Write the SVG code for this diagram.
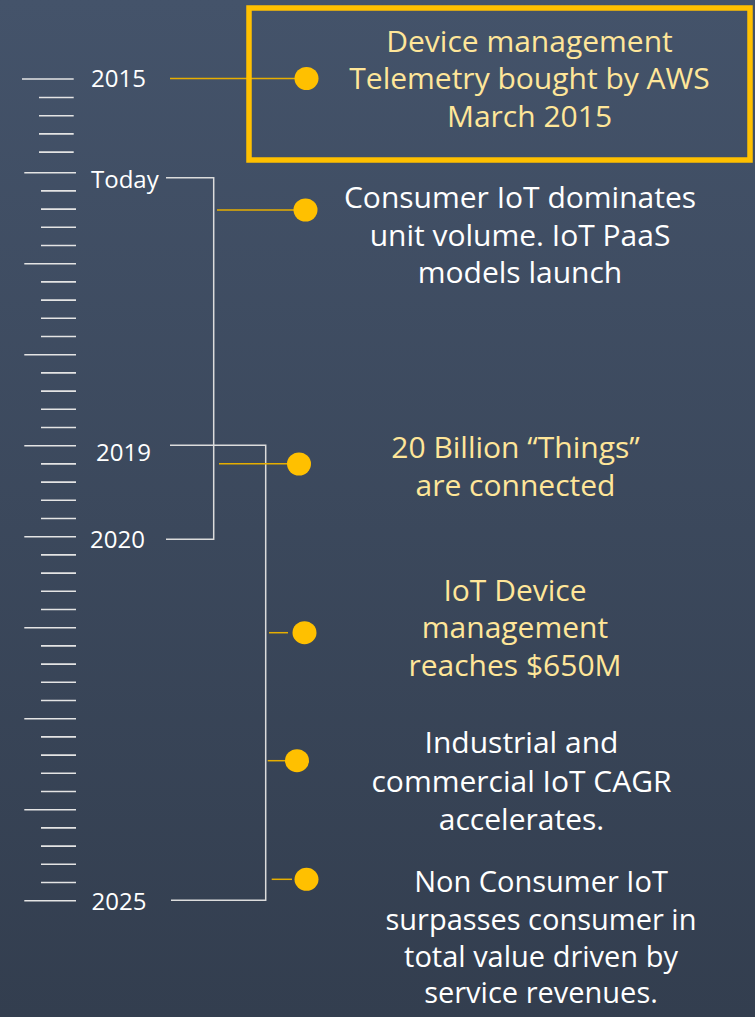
<svg xmlns="http://www.w3.org/2000/svg" width="755" height="1017" viewBox="0 0 755 1017">
<defs>
<linearGradient id="bg" x1="0" y1="0" x2="0" y2="1">
<stop offset="0" stop-color="#44536A"/>
<stop offset="1" stop-color="#333E4F"/>
</linearGradient>
</defs>
<style>
.tick{stroke:#E4E4E4;stroke-width:1.6;fill:none}
.year{font-family:"Open Sans","Noto Sans",sans-serif;font-size:24px;fill:#FFFFFF}
.ev{font-family:"Open Sans","Noto Sans",sans-serif;font-size:30px;text-anchor:middle}
.sm{font-size:29px}
.w{fill:#FFFFFF}
.y{fill:#FFE699}
.dot{fill:#FFC000}
.bracket{stroke:#DCDCDC;stroke-width:1.5;fill:none}
.lead{stroke:#E6AE00;stroke-width:1.5;fill:none}
</style>
<rect x="0" y="0" width="755" height="1017" fill="url(#bg)"/>
<g id="ruler">
<path class="tick" d="M22 79H73.7M24.3 172.7H76M24.3 263.7H76M24.3 354.7H76M24.3 445.7H76M24.3 536.7H76M24.3 627.7H76M24.3 718.7H76M24.3 809.7H76M24.3 900.7H76"/>
<path class="tick" d="M39 97.5H73.7M39 115.7H73.7M39 133.9H73.7M39 152.1H73.7
M41 190.9H76M41 209.1H76M41 227.3H76M41 245.5H76
M41 281.9H76M41 300.1H76M41 318.3H76M41 336.5H76
M41 372.9H76M41 391.1H76M41 409.3H76M41 427.5H76
M41 463.9H76M41 482.1H76M41 500.3H76M41 518.5H76
M41 554.9H76M41 573.1H76M41 591.3H76M41 609.5H76
M41 645.9H76M41 664.1H76M41 682.3H76M41 700.5H76
M41 736.9H76M41 755.1H76M41 773.3H76M41 791.5H76
M41 827.9H76M41 846.1H76M41 864.3H76M41 882.5H76"/>
</g>
<g id="label-2015"><text class="year" x="91" y="86.7">2015</text></g>
<g id="label-today"><text class="year" x="91" y="187.7">Today</text></g>
<g id="label-2019"><text class="year" x="96" y="460.7">2019</text></g>
<g id="label-2020"><text class="year" x="90" y="547.7">2020</text></g>
<g id="label-2025"><text class="year" x="91.5" y="910">2025</text></g>
<g id="connectors">
<path class="bracket" d="M166 177.7H213.7V539.3H166"/>
<path class="bracket" d="M170 445.3H265.7V900.3H171"/>
<path class="lead" stroke="#FFC000" d="M170 78.5H296"/>
<path class="lead" stroke="#FFC000" d="M217 210H295"/>
<path class="lead" d="M219 463.7H288"/>
<path class="lead" d="M269 632.7H288"/>
<path class="lead" d="M267.7 760.7H287"/>
<path class="lead" d="M271.7 879.3H292"/>
</g>
<g id="event-2015">
<rect x="249" y="8" width="501" height="152" fill="none" stroke="#FFC000" stroke-width="5.5"/>
<ellipse class="dot" cx="306.5" cy="78.5" rx="12" ry="11.5"/>
<text class="ev y" x="529.5" y="51.7">Device management</text>
<text class="ev y" x="529.5" y="89.3">Telemetry bought by AWS</text>
<text class="ev y" x="529.5" y="126.7">March 2015</text>
</g>
<g id="event-today">
<ellipse class="dot" cx="305.5" cy="210" rx="12" ry="11.5"/>
<text class="ev w" x="520" y="207.7">Consumer IoT dominates</text>
<text class="ev w" x="520" y="246">unit volume. IoT PaaS</text>
<text class="ev w" x="520" y="283.3">models launch</text>
</g>
<g id="event-things">
<ellipse class="dot" cx="299" cy="464" rx="12" ry="11.5"/>
<text class="ev y" x="515.5" y="458.3">20 Billion “Things”</text>
<text class="ev y" x="515.5" y="495.7">are connected</text>
</g>
<g id="event-devmgmt">
<ellipse class="dot" cx="304.5" cy="632.7" rx="12" ry="11.5"/>
<text class="ev y" x="515" y="600.7">IoT Device</text>
<text class="ev y" x="515" y="638.3">management</text>
<text class="ev y" x="515" y="676">reaches $650M</text>
</g>
<g id="event-industrial">
<ellipse class="dot" cx="297" cy="760.7" rx="12" ry="11.5"/>
<text class="ev w" x="521.5" y="753.3">Industrial and</text>
<text class="ev w" x="521.5" y="791.7">commercial IoT CAGR</text>
<text class="ev w" x="521.5" y="830">accelerates.</text>
</g>
<g id="event-nonconsumer">
<ellipse class="dot" cx="306.5" cy="879.3" rx="12" ry="11.5"/>
<text class="ev sm w" x="541" y="891.7">Non Consumer IoT</text>
<text class="ev sm w" x="541" y="930">surpasses consumer in</text>
<text class="ev sm w" x="541" y="966.7">total value driven by</text>
<text class="ev sm w" x="541" y="1003.3">service revenues.</text>
</g>
</svg>
